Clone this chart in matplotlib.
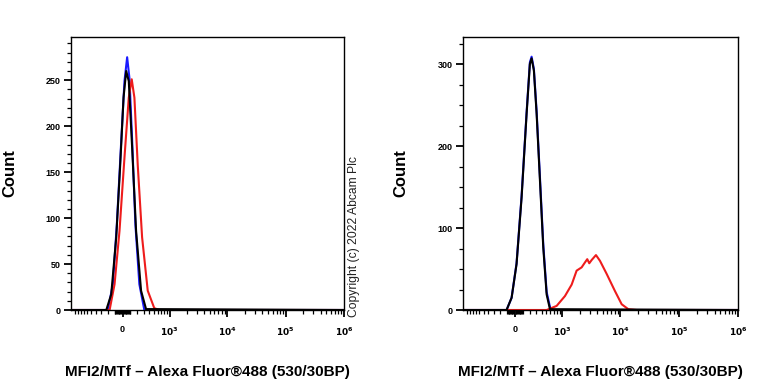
import numpy as np
import matplotlib
matplotlib.use("Agg")
import matplotlib.pyplot as plt

plt.rcParams['font.family'] = ['Liberation Sans', 'DejaVu Sans']

# fluorescence values (arbitrary units) and counts
left_blue_x = [-1200, -195, -125, -72, -16, 25, 59, 89, 125, 170, 229, 311, 1e6]
left_blue_y = [0, 0, 28, 93, 184, 249, 275, 252, 184, 93, 28, 0, 0]
left_black_x = [-1200, -219, -147, -80, -29, 13, 47, 80, 125, 180, 256, 342, 1e6]
left_black_y = [0, 0, 17, 79, 158, 231, 260, 249, 176, 86, 21, 1, 0]
left_red_x = [-1200, -170, -102, -38, 25, 80, 119, 156, 204, 273, 374, 515, 646, 1e6]
left_red_y = [0, 0, 28, 86, 166, 231, 251, 231, 158, 79, 21, 2, 0, 0]

right_blue_x = [-1200, -106, -41, 21, 85, 152, 199, 225, 261, 307, 368, 434, 509, 600, 680, 1e6]
right_blue_y = [0, 0, 15, 57, 139, 241, 302, 309, 294, 242, 161, 80, 22, 2, 0, 0]
right_black_x = [-1200, -106, -41, 21, 85, 152, 199, 225, 261, 307, 368, 434, 509, 592, 1e6]
right_black_y = [0, 0, 15, 56, 137, 239, 300, 307, 292, 239, 157, 76, 19, 1, 0]
right_red_x = [-1200, 509, 790, 1115, 1463, 1782, 2175, 2480, 2716, 2940, 3232, 3828,
               4480, 5830, 8077, 10500, 13600, 18900, 1e6]
right_red_y = [0, 0, 5, 17, 31, 48, 52, 58, 62, 57, 61, 67, 60, 44, 23, 7, 1, 0, 0]

x_major = [0, 1e3, 1e4, 1e5, 1e6]
x_major_labels = ["0", r"$\mathbf{10^3}$", r"$\mathbf{10^4}$", r"$\mathbf{10^5}$", r"$\mathbf{10^6}$"]

XLABEL = "MFI2/MTf – Alexa Fluor®488 (530/30BP)"
WIDTH = 320.0


def fwd(x):
    return np.arcsinh(np.asarray(x, dtype=float) / WIDTH)


def inv(y):
    return WIDTH * np.sinh(y)


def x_minor():
    ticks = []
    for n in (1, 2):
        for k in range(1, 10):
            ticks += [k * 10 ** n, -k * 10 ** n]
    ticks.append(-1000)
    for n in (3, 4, 5):
        for k in range(2, 10):
            ticks.append(k * 10 ** n)
    return ticks


def panel(fig, rect, curves, ymax, ymajor, yminor):
    ax = fig.add_axes(rect)
    for xs, ys, color in curves:
        ax.plot(xs, ys, color=color, lw=1.5)
    ax.set_xscale('function', functions=(fwd, inv))
    ax.set_xlim(-1200, 1e6)
    ax.set_ylim(0, ymax)

    ax.set_xticks(x_major, x_major_labels)
    ax.set_xticks(x_minor(), minor=True)
    ax.set_yticks(np.arange(0, ymax, ymajor))
    ax.set_yticks(np.arange(0, ymax, yminor), minor=True)
    ax.tick_params(axis='both', which='major', length=5, width=1.3, labelsize=6.5, direction='out')
    ax.tick_params(axis='both', which='minor', length=3, width=0.9, direction='out')
    ax.tick_params(axis='x', which='major', pad=6)
    ax.tick_params(axis='y', which='major', pad=2.5)
    for lab in ax.get_xticklabels() + ax.get_yticklabels():
        lab.set_fontweight('bold')
    for s in ax.spines.values():
        s.set_linewidth(1.0)

    ax.set_xlabel(XLABEL, fontsize=11, fontweight='bold', labelpad=20)
    return ax


fig = plt.figure(figsize=(7.68, 3.84), dpi=100)

panel(fig, [71 / 768, 74 / 384, 273 / 768, 273 / 384],
      [(left_blue_x, left_blue_y, '#1a1aff'),
       (left_red_x, left_red_y, '#ee1c1c'),
       (left_black_x, left_black_y, '#000000')],
      297, 50, 10)

panel(fig, [463 / 768, 74 / 384, 275 / 768, 273 / 384],
      [(right_blue_x, right_blue_y, '#1a1aff'),
       (right_red_x, right_red_y, '#ee1c1c'),
       (right_black_x, right_black_y, '#000000')],
      333, 100, 25)

for xc in (10, 401):
    fig.text(xc / 768, 1 - 173 / 384, "Count", rotation=90, fontsize=12,
             fontweight='bold', ha='center', va='center')

fig.text(354 / 768, 1 - 317 / 384, "Copyright (c) 2022 Abcam Plc", rotation=90,
         fontsize=8.7, color='#222222', ha='center', va='bottom')

fig.savefig("out.png", dpi=100)
